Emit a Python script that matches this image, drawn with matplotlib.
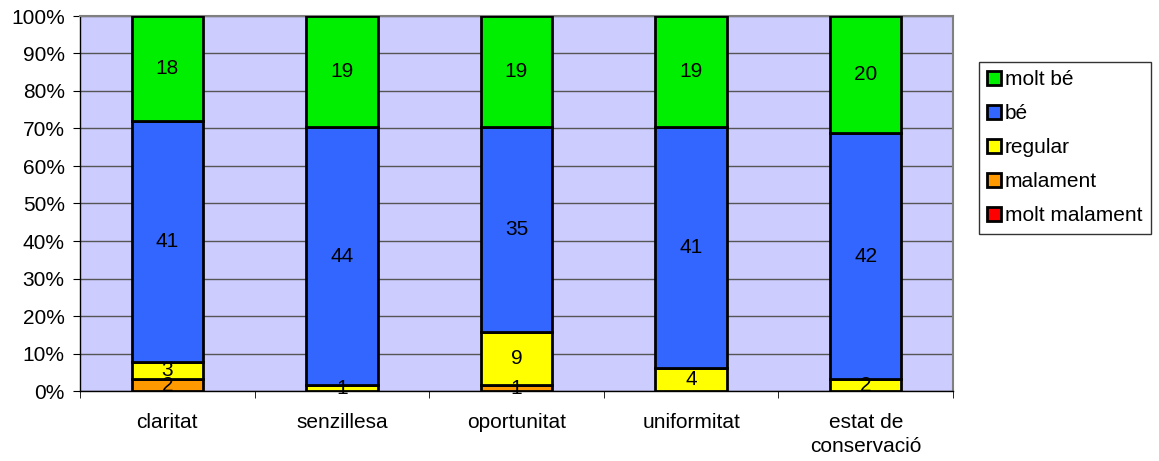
import matplotlib.pyplot as plt
import numpy as np

plt.rcParams['font.family'] = ['Liberation Sans', 'DejaVu Sans']

categories = ["claritat", "senzillesa", "oportunitat", "uniformitat", "estat de\nconservació"]
series_names = ["molt malament", "malament", "regular", "bé", "molt bé"]
molt_malament = [0, 0, 0, 0, 0]
malament = [2, 0, 1, 0, 0]
regular = [3, 1, 9, 4, 2]
be = [41, 44, 35, 41, 42]
molt_be = [18, 19, 19, 19, 20]
colors = ["#FF0000", "#FF9900", "#FFFF00", "#3366FF", "#00EE00"]

FS = 15

data = np.array([molt_malament, malament, regular, be, molt_be], dtype=float)
totals = data.sum(axis=0)
pct = data / totals * 100

fig = plt.figure(figsize=(11.59, 4.61), dpi=100)
ax = fig.add_axes([80/1159, 1-391/461, 873/1159, 375/461])
ax.set_facecolor("#CCCCFF")

x = np.arange(len(categories))
bottom = np.zeros(len(categories))
handles = []
for k, name in enumerate(series_names):
    bars = ax.bar(x, pct[k], 0.41, bottom=bottom, color=colors[k],
                  edgecolor="black", linewidth=2, label=name, zorder=3)
    handles.append(bars)
    for i in range(len(categories)):
        if data[k, i] > 0:
            ax.text(x[i], bottom[i] + pct[k, i] / 2, "%d" % data[k, i],
                    ha="center", va="center", fontsize=FS, zorder=4)
    bottom += pct[k]

ax.set_xlim(-0.5, len(categories) - 0.5)
ax.set_ylim(0, 100)
ax.set_yticks(np.arange(0, 101, 10))
ax.set_yticklabels(["%d%%" % v for v in range(0, 101, 10)], fontsize=FS)
ax.set_xticks(x)
ax.set_xticklabels(categories, fontsize=FS, linespacing=1.3)
ax.set_xticks(np.arange(-0.5, len(categories)), minor=True)
ax.tick_params(axis="x", which="major", length=0, pad=16)
ax.tick_params(axis="x", which="minor", length=5, color="black")
ax.tick_params(axis="y", length=5, color="black", pad=6)
ax.yaxis.grid(True, color="#555555", linewidth=1, zorder=0)
ax.set_axisbelow(True)
for s in ["top", "right"]:
    ax.spines[s].set_color("#808080")
    ax.spines[s].set_linewidth(1.5)
for s in ["left", "bottom"]:
    ax.spines[s].set_color("black")
    ax.spines[s].set_linewidth(1)

leg = fig.legend(handles[::-1], series_names[::-1], loc="upper left",
                 bbox_to_anchor=(979/1159, 1-62/461), fontsize=FS,
                 frameon=True, fancybox=False, edgecolor="black",
                 handlelength=0.65, handleheight=0.65, handletextpad=0.2,
                 labelspacing=0.72, borderpad=0.4, borderaxespad=0)
leg.get_frame().set_linewidth(1)

fig.savefig("out.png", dpi=100)
